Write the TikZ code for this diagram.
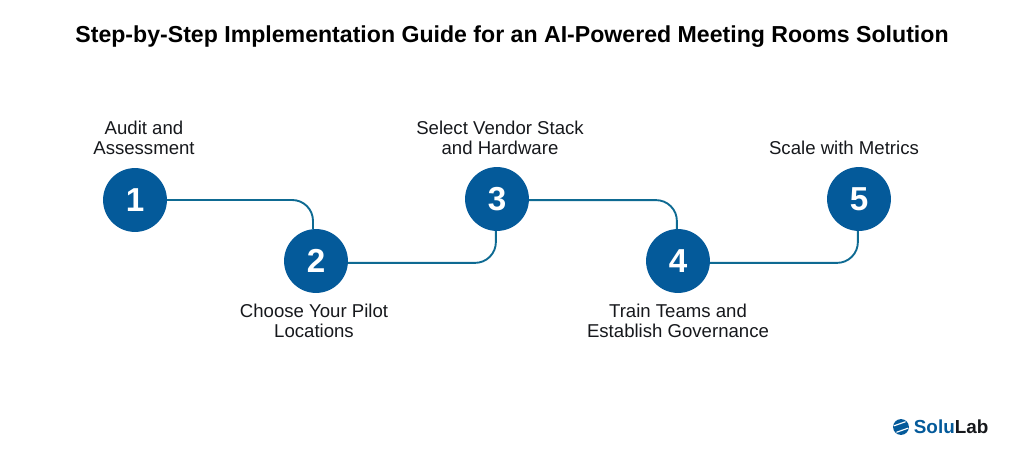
\documentclass[tikz,border=0pt]{standalone}
\usepackage{fontspec}
\setmainfont{Liberation Sans}
\usetikzlibrary{positioning}
\definecolor{stepblue}{HTML}{045A9A}
\definecolor{linkteal}{HTML}{0E6A92}
\definecolor{inkdark}{HTML}{16181C}
\tikzset{
  stepnode/.style={circle,fill=stepblue,text=white,minimum size=1.69cm,inner sep=0pt,font=\fontsize{25}{25}\selectfont\bfseries},
  steplabel/.style={align=center,text=inkdark,font=\fontsize{14}{15}\selectfont},
  steplink/.style={draw=linkteal,line width=0.05cm,rounded corners=0.55cm}
}
\begin{document}
\begin{tikzpicture}[x=0.0264583cm,y=-0.0264583cm]
\useasboundingbox (0,0) rectangle (1024,461);
\node[font=\fontsize{17.4}{22}\selectfont\bfseries,text=black] (title) at (512,37) {Step-by-Step Implementation Guide for an AI-Powered Meeting Rooms Solution};

\node[stepnode] (step1) at (135,200) {1};
\node[stepnode] (step2) at (316,261) {2};
\node[stepnode] (step3) at (497,199) {3};
\node[stepnode] (step4) at (678,261) {4};
\node[stepnode] (step5) at (859,199) {5};

\node[steplabel] (label1) at (144,138) {Audit and\\Assessment};
\node[steplabel] (label2) at (314,321) {Choose Your Pilot\\Locations};
\node[steplabel] (label3) at (500,138) {Select Vendor Stack\\and Hardware};
\node[steplabel] (label4) at (678,321) {Train Teams and\\Establish Governance};
\node[steplabel] (label5) at (844,148) {Scale with Metrics};

\draw[steplink] (step1.east) -| ([xshift=-0.08cm]step2.north);
\draw[steplink] ([yshift=-0.05cm]step2.east) -| ([xshift=-0.03cm]step3.south);
\draw[steplink] ([yshift=-0.03cm]step3.east) -| ([xshift=-0.03cm]step4.north);
\draw[steplink] ([yshift=-0.05cm]step4.east) -| ([xshift=-0.03cm]step5.south);

\node[circle,fill=stepblue,minimum size=0.42cm,inner sep=0pt] (logomark) at (901,427) {};
\draw[white,line width=0.03cm] ([shift={(-0.19cm,0.03cm)}]logomark.center) -- ([shift={(0.12cm,0.14cm)}]logomark.center);
\draw[white,line width=0.03cm] ([shift={(-0.12cm,-0.14cm)}]logomark.center) -- ([shift={(0.19cm,-0.03cm)}]logomark.center);
\node[right=0cm of logomark,font=\fontsize{14.2}{16}\selectfont\bfseries,text=stepblue] (logotext) {Solu\textcolor{inkdark}{Lab}};
\end{tikzpicture}
\end{document}
